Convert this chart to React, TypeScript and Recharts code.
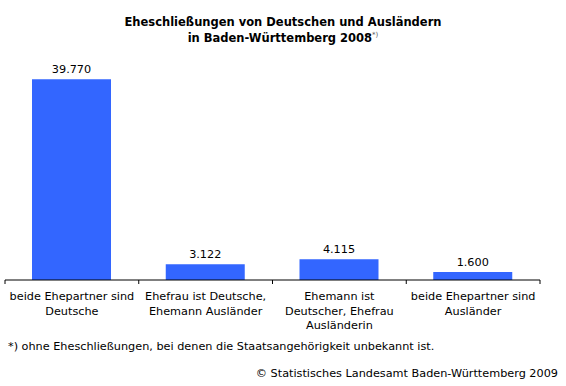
import React from 'react';
import { BarChart, Bar, XAxis, YAxis, LabelList } from 'recharts';

const categories = [
  ['beide Ehepartner sind', 'Deutsche'],
  ['Ehefrau ist Deutsche,', 'Ehemann Ausländer'],
  ['Ehemann ist', 'Deutscher, Ehefrau', 'Ausländerin'],
  ['beide Ehepartner sind', 'Ausländer'],
];
const values = [39770, 3122, 4115, 1600];

const W = 566;
const H = 386;
const M = { top: 78, right: 26, bottom: 46, left: 5 };
const BAND_HALF = (W - M.left - M.right) / categories.length / 2;
const FONT = '"DejaVu Sans", Verdana, sans-serif';
const FS = 11.25;

const data = categories.map((lines, i) => ({ name: String(i), value: values[i] }));

const fmt = (v: number) => String(v).replace(/\B(?=(\d{3})+(?!\d))/g, '.');

const CatTick = (props: any) => {
  const { x, y, payload, index } = props;
  const half = payload && payload.offset ? payload.offset : BAND_HALF;
  const lines = categories[index] || [];
  const last = index === categories.length - 1;
  return (
    <g>
      <line x1={x - half} x2={x - half} y1={y} y2={y + 4} stroke="#000" />
      {last && <line x1={x + half} x2={x + half} y1={y} y2={y + 4} stroke="#000" />}
      {lines.map((l, i) => (
        <text key={i} x={x} y={y + 20 + i * 14.5} textAnchor="middle" fontSize={FS} fontFamily={FONT} fill="#000">
          {l}
        </text>
      ))}
    </g>
  );
};

export default function App() {
  return (
    <div style={{ position: 'absolute', left: 0, top: 0, width: W, height: H, background: '#fff', fontFamily: FONT }}>
      <div style={{ position: 'absolute', left: 0, top: 14, width: W, textAlign: 'center', fontWeight: 'bold', fontSize: 11.5, lineHeight: '16px' }}>
        Eheschließungen von Deutschen und Ausländern
        <br />
        in Baden-Württemberg 2008<sup style={{ fontSize: 7, fontWeight: 'normal', color: '#555', lineHeight: 0 }}>*)</sup>
      </div>
      <BarChart width={W} height={H} data={data} margin={M} barSize={79}>
        <YAxis hide domain={[0, 40000]} />
        <XAxis
          dataKey="name"
          height={60}
          tickSize={0}
          tickMargin={0}
          tickLine={false}
          axisLine={{ stroke: '#000' }}
          interval={0}
          tick={<CatTick />}
        />
        <Bar dataKey="value" fill="#3366FF" isAnimationActive={false}>
          <LabelList dataKey="value" position="top" offset={6} formatter={(v: any) => fmt(Number(v))} style={{ fontSize: FS, fontFamily: FONT, fill: '#000' }} />
        </Bar>
      </BarChart>
      <div style={{ position: 'absolute', left: 8, top: 340, fontSize: FS }}>
        *) ohne Eheschließungen, bei denen die Staatsangehörigkeit unbekannt ist.
      </div>
      <div style={{ position: 'absolute', right: 8, top: 367, fontSize: FS }}>
        © Statistisches Landesamt Baden-Württemberg 2009
      </div>
    </div>
  );
}
